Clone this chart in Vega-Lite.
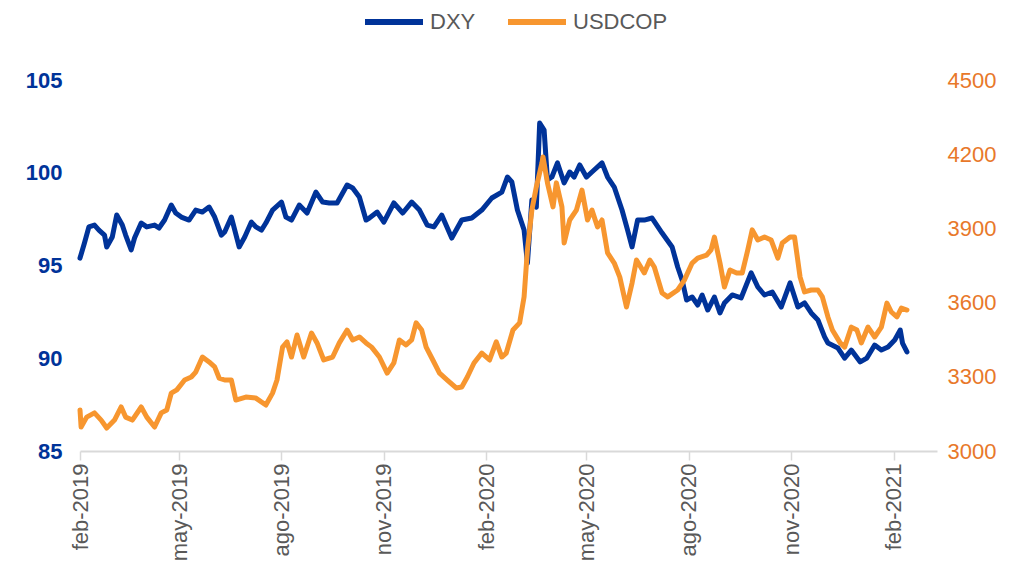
{
"$schema": "https://vega.github.io/schema/vega-lite/v6.json",
"width": 857, "height": 371,
"autosize": {"type": "none"},
"padding": {"left": 80, "top": 80, "right": 83, "bottom": 126},
"background": "white",
"config": {"view": {"stroke": null}, "font": "Liberation Sans"},
"data": {"values": [
{"date":"2019-02-01","series":"DXY","value":95.40},
{"date":"2019-02-05","series":"DXY","value":96.21},
{"date":"2019-02-09","series":"DXY","value":97.08},
{"date":"2019-02-14","series":"DXY","value":97.18},
{"date":"2019-02-18","series":"DXY","value":96.91},
{"date":"2019-02-23","series":"DXY","value":96.64},
{"date":"2019-02-25","series":"DXY","value":96.00},
{"date":"2019-03-02","series":"DXY","value":96.54},
{"date":"2019-03-06","series":"DXY","value":97.72},
{"date":"2019-03-11","series":"DXY","value":97.18},
{"date":"2019-03-14","series":"DXY","value":96.64},
{"date":"2019-03-19","series":"DXY","value":95.84},
{"date":"2019-03-22","series":"DXY","value":96.48},
{"date":"2019-03-28","series":"DXY","value":97.29},
{"date":"2019-04-02","series":"DXY","value":97.08},
{"date":"2019-04-09","series":"DXY","value":97.18},
{"date":"2019-04-13","series":"DXY","value":97.02},
{"date":"2019-04-18","series":"DXY","value":97.45},
{"date":"2019-04-24","series":"DXY","value":98.26},
{"date":"2019-04-28","series":"DXY","value":97.83},
{"date":"2019-05-03","series":"DXY","value":97.61},
{"date":"2019-05-10","series":"DXY","value":97.45},
{"date":"2019-05-16","series":"DXY","value":97.99},
{"date":"2019-05-22","series":"DXY","value":97.88},
{"date":"2019-05-28","series":"DXY","value":98.15},
{"date":"2019-06-02","series":"DXY","value":97.61},
{"date":"2019-06-08","series":"DXY","value":96.64},
{"date":"2019-06-11","series":"DXY","value":96.81},
{"date":"2019-06-17","series":"DXY","value":97.61},
{"date":"2019-06-24","series":"DXY","value":96.00},
{"date":"2019-06-29","series":"DXY","value":96.54},
{"date":"2019-07-05","series":"DXY","value":97.34},
{"date":"2019-07-09","series":"DXY","value":97.08},
{"date":"2019-07-14","series":"DXY","value":96.91},
{"date":"2019-07-18","series":"DXY","value":97.29},
{"date":"2019-07-24","series":"DXY","value":97.99},
{"date":"2019-08-01","series":"DXY","value":98.42},
{"date":"2019-08-05","series":"DXY","value":97.61},
{"date":"2019-08-10","series":"DXY","value":97.45},
{"date":"2019-08-17","series":"DXY","value":98.26},
{"date":"2019-08-24","series":"DXY","value":97.83},
{"date":"2019-09-01","series":"DXY","value":98.96},
{"date":"2019-09-07","series":"DXY","value":98.42},
{"date":"2019-09-13","series":"DXY","value":98.37},
{"date":"2019-09-20","series":"DXY","value":98.37},
{"date":"2019-09-29","series":"DXY","value":99.34},
{"date":"2019-10-04","series":"DXY","value":99.18},
{"date":"2019-10-10","series":"DXY","value":98.69},
{"date":"2019-10-16","series":"DXY","value":97.45},
{"date":"2019-10-19","series":"DXY","value":97.56},
{"date":"2019-10-26","series":"DXY","value":97.88},
{"date":"2019-11-01","series":"DXY","value":97.34},
{"date":"2019-11-10","series":"DXY","value":98.37},
{"date":"2019-11-18","series":"DXY","value":97.83},
{"date":"2019-11-26","series":"DXY","value":98.42},
{"date":"2019-12-03","series":"DXY","value":97.99},
{"date":"2019-12-10","series":"DXY","value":97.18},
{"date":"2019-12-16","series":"DXY","value":97.08},
{"date":"2019-12-23","series":"DXY","value":97.72},
{"date":"2020-01-01","series":"DXY","value":96.48},
{"date":"2020-01-10","series":"DXY","value":97.45},
{"date":"2020-01-19","series":"DXY","value":97.56},
{"date":"2020-01-28","series":"DXY","value":97.99},
{"date":"2020-02-06","series":"DXY","value":98.64},
{"date":"2020-02-15","series":"DXY","value":98.96},
{"date":"2020-02-20","series":"DXY","value":99.77},
{"date":"2020-02-24","series":"DXY","value":99.50},
{"date":"2020-02-29","series":"DXY","value":97.99},
{"date":"2020-03-06","series":"DXY","value":96.91},
{"date":"2020-03-09","series":"DXY","value":95.13},
{"date":"2020-03-13","series":"DXY","value":98.53},
{"date":"2020-03-17","series":"DXY","value":98.15},
{"date":"2020-03-20","series":"DXY","value":102.68},
{"date":"2020-03-24","series":"DXY","value":102.30},
{"date":"2020-03-27","series":"DXY","value":99.61},
{"date":"2020-03-31","series":"DXY","value":99.77},
{"date":"2020-04-05","series":"DXY","value":100.53},
{"date":"2020-04-11","series":"DXY","value":99.45},
{"date":"2020-04-16","series":"DXY","value":100.04},
{"date":"2020-04-20","series":"DXY","value":99.77},
{"date":"2020-04-25","series":"DXY","value":100.42},
{"date":"2020-05-01","series":"DXY","value":99.77},
{"date":"2020-05-06","series":"DXY","value":100.04},
{"date":"2020-05-15","series":"DXY","value":100.53},
{"date":"2020-05-20","series":"DXY","value":99.77},
{"date":"2020-05-26","series":"DXY","value":99.23},
{"date":"2020-06-02","series":"DXY","value":97.99},
{"date":"2020-06-07","series":"DXY","value":96.91},
{"date":"2020-06-11","series":"DXY","value":96.00},
{"date":"2020-06-16","series":"DXY","value":97.45},
{"date":"2020-06-22","series":"DXY","value":97.45},
{"date":"2020-06-29","series":"DXY","value":97.56},
{"date":"2020-07-08","series":"DXY","value":96.75},
{"date":"2020-07-17","series":"DXY","value":96.00},
{"date":"2020-07-22","series":"DXY","value":94.92},
{"date":"2020-07-26","series":"DXY","value":94.22},
{"date":"2020-07-30","series":"DXY","value":93.14},
{"date":"2020-08-04","series":"DXY","value":93.30},
{"date":"2020-08-09","series":"DXY","value":92.87},
{"date":"2020-08-13","series":"DXY","value":93.41},
{"date":"2020-08-18","series":"DXY","value":92.60},
{"date":"2020-08-24","series":"DXY","value":93.30},
{"date":"2020-08-29","series":"DXY","value":92.44},
{"date":"2020-09-02","series":"DXY","value":92.98},
{"date":"2020-09-09","series":"DXY","value":93.41},
{"date":"2020-09-17","series":"DXY","value":93.25},
{"date":"2020-09-26","series":"DXY","value":94.60},
{"date":"2020-10-02","series":"DXY","value":93.84},
{"date":"2020-10-08","series":"DXY","value":93.41},
{"date":"2020-10-15","series":"DXY","value":93.57},
{"date":"2020-10-23","series":"DXY","value":92.76},
{"date":"2020-10-31","series":"DXY","value":94.06},
{"date":"2020-11-07","series":"DXY","value":92.76},
{"date":"2020-11-13","series":"DXY","value":92.98},
{"date":"2020-11-19","series":"DXY","value":92.44},
{"date":"2020-11-25","series":"DXY","value":92.06},
{"date":"2020-12-01","series":"DXY","value":91.15},
{"date":"2020-12-04","series":"DXY","value":90.82},
{"date":"2020-12-13","series":"DXY","value":90.55},
{"date":"2020-12-19","series":"DXY","value":90.01},
{"date":"2020-12-25","series":"DXY","value":90.44},
{"date":"2021-01-02","series":"DXY","value":89.80},
{"date":"2021-01-08","series":"DXY","value":90.01},
{"date":"2021-01-15","series":"DXY","value":90.71},
{"date":"2021-01-21","series":"DXY","value":90.44},
{"date":"2021-01-27","series":"DXY","value":90.61},
{"date":"2021-02-02","series":"DXY","value":90.98},
{"date":"2021-02-07","series":"DXY","value":91.52},
{"date":"2021-02-09","series":"DXY","value":90.82},
{"date":"2021-02-13","series":"DXY","value":90.34},
{"date":"2019-02-01","series":"USDCOP","value":3166},
{"date":"2019-02-02","series":"USDCOP","value":3097},
{"date":"2019-02-07","series":"USDCOP","value":3137},
{"date":"2019-02-14","series":"USDCOP","value":3154},
{"date":"2019-02-20","series":"USDCOP","value":3125},
{"date":"2019-02-25","series":"USDCOP","value":3093},
{"date":"2019-03-04","series":"USDCOP","value":3125},
{"date":"2019-03-10","series":"USDCOP","value":3178},
{"date":"2019-03-14","series":"USDCOP","value":3137},
{"date":"2019-03-20","series":"USDCOP","value":3125},
{"date":"2019-03-28","series":"USDCOP","value":3178},
{"date":"2019-04-02","series":"USDCOP","value":3137},
{"date":"2019-04-09","series":"USDCOP","value":3097},
{"date":"2019-04-15","series":"USDCOP","value":3154},
{"date":"2019-04-20","series":"USDCOP","value":3166},
{"date":"2019-04-24","series":"USDCOP","value":3234},
{"date":"2019-04-29","series":"USDCOP","value":3247},
{"date":"2019-05-06","series":"USDCOP","value":3287},
{"date":"2019-05-12","series":"USDCOP","value":3299},
{"date":"2019-05-16","series":"USDCOP","value":3319},
{"date":"2019-05-22","series":"USDCOP","value":3380},
{"date":"2019-05-28","series":"USDCOP","value":3360},
{"date":"2019-06-02","series":"USDCOP","value":3340},
{"date":"2019-06-06","series":"USDCOP","value":3295},
{"date":"2019-06-11","series":"USDCOP","value":3287},
{"date":"2019-06-17","series":"USDCOP","value":3287},
{"date":"2019-06-21","series":"USDCOP","value":3206},
{"date":"2019-06-30","series":"USDCOP","value":3218},
{"date":"2019-07-09","series":"USDCOP","value":3214},
{"date":"2019-07-18","series":"USDCOP","value":3186},
{"date":"2019-07-24","series":"USDCOP","value":3234},
{"date":"2019-07-28","series":"USDCOP","value":3287},
{"date":"2019-08-02","series":"USDCOP","value":3420},
{"date":"2019-08-06","series":"USDCOP","value":3441},
{"date":"2019-08-10","series":"USDCOP","value":3380},
{"date":"2019-08-15","series":"USDCOP","value":3469},
{"date":"2019-08-21","series":"USDCOP","value":3380},
{"date":"2019-08-28","series":"USDCOP","value":3477},
{"date":"2019-09-02","series":"USDCOP","value":3437},
{"date":"2019-09-08","series":"USDCOP","value":3368},
{"date":"2019-09-16","series":"USDCOP","value":3380},
{"date":"2019-09-22","series":"USDCOP","value":3437},
{"date":"2019-09-29","series":"USDCOP","value":3489},
{"date":"2019-10-04","series":"USDCOP","value":3449},
{"date":"2019-10-10","series":"USDCOP","value":3461},
{"date":"2019-10-16","series":"USDCOP","value":3437},
{"date":"2019-10-21","series":"USDCOP","value":3420},
{"date":"2019-10-28","series":"USDCOP","value":3380},
{"date":"2019-11-04","series":"USDCOP","value":3315},
{"date":"2019-11-10","series":"USDCOP","value":3356},
{"date":"2019-11-15","series":"USDCOP","value":3449},
{"date":"2019-11-21","series":"USDCOP","value":3429},
{"date":"2019-11-26","series":"USDCOP","value":3449},
{"date":"2019-11-30","series":"USDCOP","value":3518},
{"date":"2019-12-05","series":"USDCOP","value":3489},
{"date":"2019-12-09","series":"USDCOP","value":3420},
{"date":"2019-12-15","series":"USDCOP","value":3368},
{"date":"2019-12-21","series":"USDCOP","value":3315},
{"date":"2019-12-28","series":"USDCOP","value":3287},
{"date":"2020-01-05","series":"USDCOP","value":3255},
{"date":"2020-01-10","series":"USDCOP","value":3259},
{"date":"2020-01-15","series":"USDCOP","value":3299},
{"date":"2020-01-21","series":"USDCOP","value":3356},
{"date":"2020-01-28","series":"USDCOP","value":3396},
{"date":"2020-02-04","series":"USDCOP","value":3368},
{"date":"2020-02-10","series":"USDCOP","value":3441},
{"date":"2020-02-15","series":"USDCOP","value":3380},
{"date":"2020-02-19","series":"USDCOP","value":3396},
{"date":"2020-02-25","series":"USDCOP","value":3489},
{"date":"2020-03-02","series":"USDCOP","value":3518},
{"date":"2020-03-06","series":"USDCOP","value":3623},
{"date":"2020-03-09","series":"USDCOP","value":3813},
{"date":"2020-03-13","series":"USDCOP","value":3974},
{"date":"2020-03-17","series":"USDCOP","value":4067},
{"date":"2020-03-22","series":"USDCOP","value":4164},
{"date":"2020-03-23","series":"USDCOP","value":4189},
{"date":"2020-03-27","series":"USDCOP","value":4084},
{"date":"2020-04-01","series":"USDCOP","value":3987},
{"date":"2020-04-04","series":"USDCOP","value":4084},
{"date":"2020-04-09","series":"USDCOP","value":3987},
{"date":"2020-04-11","series":"USDCOP","value":3841},
{"date":"2020-04-16","series":"USDCOP","value":3934},
{"date":"2020-04-22","series":"USDCOP","value":3974},
{"date":"2020-04-27","series":"USDCOP","value":4055},
{"date":"2020-05-02","series":"USDCOP","value":3934},
{"date":"2020-05-06","series":"USDCOP","value":3974},
{"date":"2020-05-11","series":"USDCOP","value":3906},
{"date":"2020-05-15","series":"USDCOP","value":3934},
{"date":"2020-05-20","series":"USDCOP","value":3801},
{"date":"2020-05-26","series":"USDCOP","value":3760},
{"date":"2020-05-31","series":"USDCOP","value":3703},
{"date":"2020-06-06","series":"USDCOP","value":3582},
{"date":"2020-06-11","series":"USDCOP","value":3679},
{"date":"2020-06-15","series":"USDCOP","value":3772},
{"date":"2020-06-22","series":"USDCOP","value":3720},
{"date":"2020-06-27","series":"USDCOP","value":3772},
{"date":"2020-07-01","series":"USDCOP","value":3744},
{"date":"2020-07-08","series":"USDCOP","value":3639},
{"date":"2020-07-13","series":"USDCOP","value":3623},
{"date":"2020-07-22","series":"USDCOP","value":3651},
{"date":"2020-07-28","series":"USDCOP","value":3691},
{"date":"2020-08-04","series":"USDCOP","value":3760},
{"date":"2020-08-09","series":"USDCOP","value":3780},
{"date":"2020-08-17","series":"USDCOP","value":3792},
{"date":"2020-08-21","series":"USDCOP","value":3813},
{"date":"2020-08-24","series":"USDCOP","value":3865},
{"date":"2020-08-29","series":"USDCOP","value":3760},
{"date":"2020-09-02","series":"USDCOP","value":3663},
{"date":"2020-09-07","series":"USDCOP","value":3732},
{"date":"2020-09-13","series":"USDCOP","value":3720},
{"date":"2020-09-18","series":"USDCOP","value":3720},
{"date":"2020-09-23","series":"USDCOP","value":3813},
{"date":"2020-09-27","series":"USDCOP","value":3894},
{"date":"2020-10-02","series":"USDCOP","value":3853},
{"date":"2020-10-08","series":"USDCOP","value":3865},
{"date":"2020-10-14","series":"USDCOP","value":3853},
{"date":"2020-10-20","series":"USDCOP","value":3780},
{"date":"2020-10-24","series":"USDCOP","value":3841},
{"date":"2020-10-31","series":"USDCOP","value":3865},
{"date":"2020-11-04","series":"USDCOP","value":3865},
{"date":"2020-11-09","series":"USDCOP","value":3703},
{"date":"2020-11-13","series":"USDCOP","value":3643},
{"date":"2020-11-19","series":"USDCOP","value":3651},
{"date":"2020-11-25","series":"USDCOP","value":3651},
{"date":"2020-11-29","series":"USDCOP","value":3623},
{"date":"2020-12-04","series":"USDCOP","value":3542},
{"date":"2020-12-08","series":"USDCOP","value":3489},
{"date":"2020-12-15","series":"USDCOP","value":3437},
{"date":"2020-12-19","series":"USDCOP","value":3420},
{"date":"2020-12-25","series":"USDCOP","value":3501},
{"date":"2020-12-30","series":"USDCOP","value":3489},
{"date":"2021-01-03","series":"USDCOP","value":3437},
{"date":"2021-01-09","series":"USDCOP","value":3501},
{"date":"2021-01-15","series":"USDCOP","value":3461},
{"date":"2021-01-21","series":"USDCOP","value":3501},
{"date":"2021-01-26","series":"USDCOP","value":3598},
{"date":"2021-01-30","series":"USDCOP","value":3562},
{"date":"2021-02-04","series":"USDCOP","value":3542},
{"date":"2021-02-08","series":"USDCOP","value":3578},
{"date":"2021-02-13","series":"USDCOP","value":3570}
]},
"encoding": {
  "x": {
    "field": "date", "type": "temporal",
    "scale": {"type": "utc", "domain": [{"year": 2019, "month": 2, "date": 1, "utc": true}, {"year": 2021, "month": 3, "date": 12, "utc": true}]},
    "axis": {
      "title": null, "grid": false,
      "values": [
        {"year": 2019, "month": 2, "date": 1, "utc": true},
        {"year": 2019, "month": 5, "date": 1, "utc": true},
        {"year": 2019, "month": 8, "date": 1, "utc": true},
        {"year": 2019, "month": 11, "date": 1, "utc": true},
        {"year": 2020, "month": 2, "date": 1, "utc": true},
        {"year": 2020, "month": 5, "date": 1, "utc": true},
        {"year": 2020, "month": 8, "date": 1, "utc": true},
        {"year": 2020, "month": 11, "date": 1, "utc": true},
        {"year": 2021, "month": 2, "date": 1, "utc": true}
      ],
      "labelExpr": "['ene','feb','mar','abr','may','jun','jul','ago','sep','oct','nov','dic'][utcmonth(datum.value)] + '-' + utcyear(datum.value)",
      "labelAngle": -90, "labelFontSize": 22, "labelColor": "#595959", "labelFont": "Liberation Sans",
      "labelPadding": 3, "labelOverlap": false, "labelFlush": false,
      "domainColor": "#d9d9d9", "domainWidth": 2, "tickColor": "#d9d9d9", "tickSize": 9, "tickWidth": 1.5
    }
  },
  "color": {
    "field": "series", "type": "nominal",
    "scale": {"domain": ["DXY", "USDCOP"], "range": ["#003399", "#F7962F"]},
    "legend": {
      "title": null, "orient": "none", "legendX": 282, "legendY": -90, "direction": "horizontal",
      "symbolType": "stroke", "symbolStrokeWidth": 6, "symbolSize": 3364,
      "labelFontSize": 22, "labelColor": "#595959", "labelFont": "Liberation Sans", "labelOffset": 4, "columnPadding": 20
    }
  }
},
"layer": [
  {
    "transform": [{"filter": "datum.series === 'DXY'"}],
    "mark": {"type": "line", "strokeWidth": 5, "strokeJoin": "round", "strokeCap": "round"},
    "encoding": {
      "y": {"field": "value", "type": "quantitative",
        "scale": {"domain": [85, 105], "zero": false},
        "axis": {"title": null, "grid": false, "domain": false, "ticks": false, "values": [85, 90, 95, 100, 105],
          "labelFontSize": 22, "labelFontWeight": "bold", "labelColor": "#003399", "labelFont": "Liberation Sans", "labelPadding": 18}}
    }
  },
  {
    "transform": [{"filter": "datum.series === 'USDCOP'"}],
    "mark": {"type": "line", "strokeWidth": 5, "strokeJoin": "round", "strokeCap": "round"},
    "encoding": {
      "y": {"field": "value", "type": "quantitative",
        "scale": {"domain": [3000, 4500], "zero": false},
        "axis": {"orient": "right", "title": null, "grid": false, "domain": false, "ticks": false, "values": [3000, 3300, 3600, 3900, 4200, 4500],
          "format": "d",
          "labelFontSize": 22, "labelColor": "#E8782A", "labelFont": "Liberation Sans", "labelPadding": 10}}
    }
  }
],
"resolve": {"scale": {"y": "independent"}}
}
